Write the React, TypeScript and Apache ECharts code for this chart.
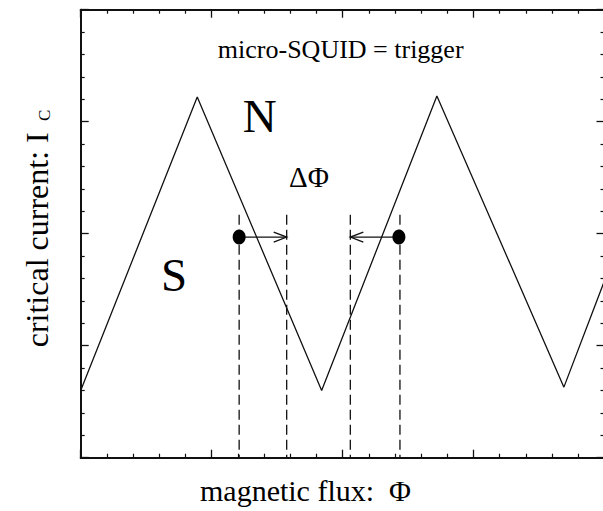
import React, { useEffect, useRef } from "react";
import * as echarts from "echarts";

// Triangular critical-current modulation versus flux (vertices)
const fluxPoints = [0, 0.89, 1.84, 2.72, 3.69, 4.0];
const currentPoints = [0.6, 3.22, 0.6, 3.23, 0.63, 1.58];

// Vertical dashed guides: flux positions and their upper end
const guideFlux = [1.21, 1.573, 2.059, 2.438];
const guideTop = 2.17;

// Trigger points and where each is shifted to
const triggerFlux = [1.21, 2.43];
const triggerCurrent = [1.97, 1.97];
const shiftedFlux = [1.573, 2.059];

// Axis extent and tick spacing
const fluxRange = [0, 4];
const currentRange = [0, 4];
const majorStep = 1;
const minorPerMajor = 5;

const INK = "#111";
const SERIF = "Liberation Serif";

function axisCommon(min: number, max: number) {
  return {
    type: "value" as const,
    min,
    max,
    interval: majorStep,
    axisLine: { show: true, onZero: false, lineStyle: { color: INK, width: 2 } },
    axisTick: { show: true, inside: true, length: 8, lineStyle: { color: INK, width: 1.3 } },
    minorTick: { show: true, splitNumber: minorPerMajor, length: 4, lineStyle: { color: INK, width: 1.2 } },
    axisLabel: { show: false },
    splitLine: { show: false },
    minorSplitLine: { show: false },
  };
}

function label(text: string, x: number, y: number, size: number, rotation = 0) {
  return {
    type: "text",
    x,
    y,
    rotation,
    z: 10,
    style: {
      text,
      fontFamily: SERIF,
      fontSize: size,
      fill: "#000",
      align: "center",
      verticalAlign: "middle",
    },
  };
}

export default function App() {
  const ref = useRef<HTMLDivElement>(null);

  useEffect(() => {
    if (!ref.current) return;
    const chart = echarts.init(ref.current, undefined, { renderer: "svg" });

    const wave = fluxPoints.map((x, i) => [x, currentPoints[i]]);
    const guides = guideFlux.map((x) => [x, guideTop]);
    const dots = triggerFlux.map((x, i) => [x, triggerCurrent[i]]);
    const arrows = triggerFlux.map((x, i) => [x, triggerCurrent[i], shiftedFlux[i]]);

    chart.setOption({
      animation: false,
      grid: { left: 80.7, top: 9.7, width: 523.8, height: 448, outerBoundsMode: "none" },
      xAxis: [
        { ...axisCommon(fluxRange[0], fluxRange[1]), position: "bottom" },
        { ...axisCommon(fluxRange[0], fluxRange[1]), position: "top" },
      ],
      yAxis: [
        { ...axisCommon(currentRange[0], currentRange[1]), position: "left" },
        { ...axisCommon(currentRange[0], currentRange[1]), position: "right" },
      ],
      series: [
        {
          type: "line",
          data: wave,
          showSymbol: false,
          symbol: "none",
          lineStyle: { color: INK, width: 1.3 },
          silent: true,
          z: 3,
        },
        {
          type: "custom",
          data: guides,
          silent: true,
          z: 2,
          renderItem: (_p: any, api: any) => {
            const top = api.coord([api.value(0), api.value(1)]);
            const bot = api.coord([api.value(0), currentRange[0]]);
            return {
              type: "line",
              shape: { x1: top[0], y1: top[1], x2: bot[0], y2: bot[1] },
              style: { stroke: INK, lineWidth: 1.3, lineDash: [10, 5], fill: null },
            };
          },
        },
        {
          type: "custom",
          data: arrows,
          silent: true,
          z: 4,
          renderItem: (_p: any, api: any) => {
            const from = api.coord([api.value(0), api.value(1)]);
            const tip = api.coord([api.value(2), api.value(1)]);
            const dir = tip[0] > from[0] ? 1 : -1;
            return {
              type: "group",
              children: [
                {
                  type: "line",
                  shape: { x1: from[0], y1: from[1], x2: tip[0], y2: tip[1] },
                  style: { stroke: INK, lineWidth: 1.3, fill: null },
                },
                {
                  type: "polyline",
                  shape: {
                    points: [
                      [tip[0] - dir * 13, tip[1] - 5],
                      [tip[0], tip[1]],
                      [tip[0] - dir * 13, tip[1] + 5],
                    ],
                  },
                  style: { stroke: INK, lineWidth: 1.3, fill: null },
                },
              ],
            };
          },
        },
        {
          type: "scatter",
          data: dots,
          symbol: "circle",
          symbolSize: [13, 15],
          itemStyle: { color: "#000", opacity: 1 },
          silent: true,
          z: 5,
        },
      ],
      graphic: [
        label("micro-SQUID = trigger", 340.7, 49.2, 26),
        label("N", 259.7, 116.3, 47),
        label("S", 174, 274.5, 47),
        label("ΔΦ", 309, 177, 29),
        label("magnetic flux:  Φ", 305.5, 490.8, 30),
        label("critical current: I", 36.5, 239.8, 32, Math.PI / 2),
        label("C", 44.4, 115.3, 17, Math.PI / 2),
      ],
    });

    return () => chart.dispose();
  }, []);

  return (
    <div style={{ position: "absolute", left: 0, top: 0, width: 603, height: 511, overflow: "hidden", background: "#fff" }}>
      <div ref={ref} style={{ width: 608, height: 511, background: "#fff" }} />
    </div>
  );
}
